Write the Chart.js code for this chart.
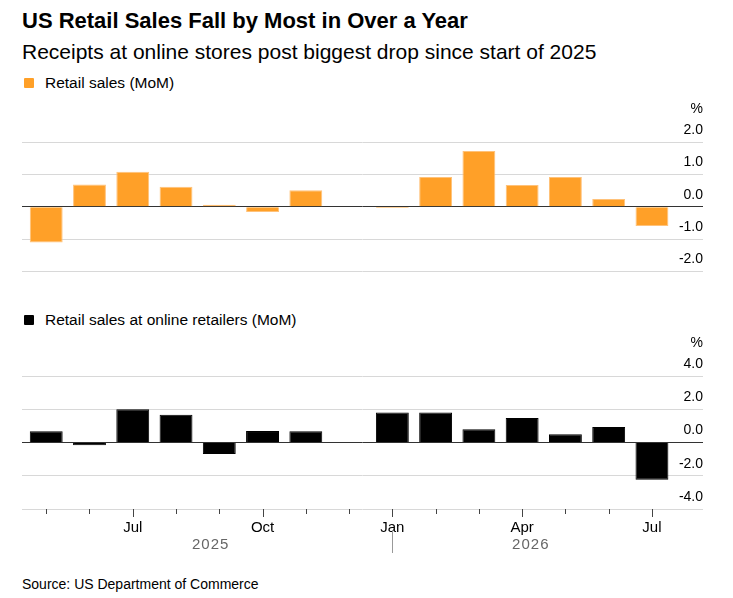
<!DOCTYPE html>
<html>
<head>
<meta charset="utf-8">
<script src="https://cdn.jsdelivr.net/npm/chart.js@4"></script>
<style>
  body { margin: 0; background: #fff; font-family: "Liberation Sans", Arial, sans-serif; }
  #wrap { position: relative; width: 733px; height: 598px; }
  .title { position: absolute; left: 22px; top: 8px; font-size: 22px; font-weight: bold; color: #000; }
  .sub { position: absolute; left: 22px; top: 40px; font-size: 21px; color: #000; }
  .legend { position: absolute; left: 24px; font-size: 15.5px; color: #000; }
  .legend span { display: inline-block; width: 10px; height: 10px; margin-right: 11px; border-radius: 1px; }
  .source { position: absolute; left: 22px; top: 576px; font-size: 14px; color: #000; }
  canvas { position: absolute; left: 0; }
</style>
</head>
<body>
<div id="wrap">
  <div class="title">US Retail Sales Fall by Most in Over a Year</div>
  <div class="sub">Receipts at online stores post biggest drop since start of 2025</div>
  <div class="legend" style="top:74px"><span style="background:#ffa028"></span>Retail sales (MoM)</div>
  <div class="legend" style="top:311px"><span style="background:#000"></span>Retail sales at online retailers (MoM)</div>
  <canvas id="top" width="733" height="180" style="top:100px"></canvas>
  <canvas id="bottom" width="733" height="235" style="top:330px"></canvas>
  <div class="source">Source: US Department of Commerce</div>
</div>
<script>
// months May 2025 .. Jul 2026
const months = ["May", "Jun", "Jul", "Aug", "Sep", "Oct", "Nov", "Dec", "Jan", "Feb", "Mar", "Apr", "May", "Jun", "Jul"];
const monthLabels = ["", "", "Jul", "", "", "Oct", "", "", "Jan", "", "", "Apr", "", "", "Jul"];
const retailSales = [-1.1, 0.69, 1.08, 0.62, 0.06, -0.16, 0.51, null, -0.04, 0.92, 1.72, 0.67, 0.92, 0.24, -0.59];
const onlineSales = [0.67, -0.16, 2.0, 1.67, -0.69, 0.69, 0.67, null, 1.8, 1.8, 0.79, 1.47, 0.5, 0.93, -2.24];
const topTicks = [-2, -1, 0, 1, 2];
const bottomTicks = [-4, -2, 0, 2, 4];
const years = [{ text: "2025", at: 3.8 }, { text: "2026", at: 11.2 }];

const FONT = "'Liberation Sans', Arial, sans-serif";

function points(values) {
  return values.map((v, i) => ({ x: i, y: v }));
}

// "%" above the right axis
const percentSign = {
  id: "percentSign",
  afterDraw(chart) {
    const ctx = chart.ctx;
    ctx.save();
    ctx.font = "14px " + FONT;
    ctx.fillStyle = "#000";
    ctx.textAlign = "right";
    ctx.textBaseline = "middle";
    ctx.fillText("%", chart.chartArea.right, chart.chartArea.top - 33);
    ctx.restore();
  }
};

// month ticks, year labels and year separator
const monthAxis = {
  id: "monthAxis",
  afterDraw(chart) {
    const x = chart.scales.x;
    const ctx = chart.ctx;
    const bottom = chart.chartArea.bottom;
    ctx.save();
    ctx.strokeStyle = "#444";
    ctx.lineWidth = 1;
    months.forEach((m, i) => {
      const px = Math.round(x.getPixelForValue(i)) + 0.5;
      ctx.beginPath();
      ctx.moveTo(px, bottom);
      ctx.lineTo(px, bottom + (monthLabels[i] ? 8 : 5));
      ctx.stroke();
    });
    const jan = Math.round(x.getPixelForValue(months.indexOf("Jan"))) + 0.5;
    ctx.strokeStyle = "#999";
    ctx.beginPath();
    ctx.moveTo(jan, bottom + 22);
    ctx.lineTo(jan, bottom + 44);
    ctx.stroke();
    ctx.font = "15px " + FONT;
    ctx.letterSpacing = "1px";
    ctx.fillStyle = "#666";
    ctx.textAlign = "center";
    ctx.textBaseline = "middle";
    years.forEach(y => ctx.fillText(y.text, x.getPixelForValue(y.at), bottom + 36));
    ctx.restore();
  }
};

function makeChart(id, values, color, border, ticks, pad, showMonths) {
  return new Chart(document.getElementById(id), {
    type: "bar",
    data: {
      datasets: [{
        data: points(values),
        backgroundColor: color,
        borderColor: border,
        borderWidth: 1,
        borderSkipped: "bottom",
        barPercentage: 0.76,
        categoryPercentage: 1
      }]
    },
    options: {
      responsive: false,
      animation: false,
      layout: { padding: pad },
      plugins: { legend: { display: false }, tooltip: { enabled: false } },
      scales: {
        x: {
          type: "linear",
          offset: false,
          min: -0.56,
          max: 15.18,
          display: showMonths,
          afterBuildTicks: axis => { axis.ticks = months.map((m, i) => ({ value: i })); },
          grid: { display: false },
          border: { display: false },
          ticks: {
            autoSkip: false,
            maxRotation: 0,
            padding: 2,
            color: "#000",
            font: { family: FONT, size: 15 },
            callback: (v) => monthLabels[v] || ""
          }
        },
        y: {
          position: "right",
          min: ticks[0],
          max: ticks[ticks.length - 1],
          afterBuildTicks: axis => { axis.ticks = ticks.map(v => ({ value: v })); },
          border: { display: false },
          grid: {
            drawTicks: false,
            color: ctx => ctx.tick && ctx.tick.value === 0 ? "#333" : "#d8d8d8",
            lineWidth: 1
          },
          ticks: {
            mirror: true,
            padding: 0,
            labelOffset: -12,
            color: "#000",
            font: { family: FONT, size: 14 },
            callback: v => v.toFixed(1)
          }
        }
      }
    },
    plugins: showMonths ? [percentSign, monthAxis] : [percentSign]
  });
}

makeChart("top", retailSales, "#ffa028", "#ffc27a", topTicks, { top: 42, bottom: 7, left: 22, right: 30 }, false);
makeChart("bottom", onlineSales, "#000", "#000", bottomTicks, { top: 46, bottom: 26, left: 22, right: 30 }, true);
</script>
</body>
</html>
